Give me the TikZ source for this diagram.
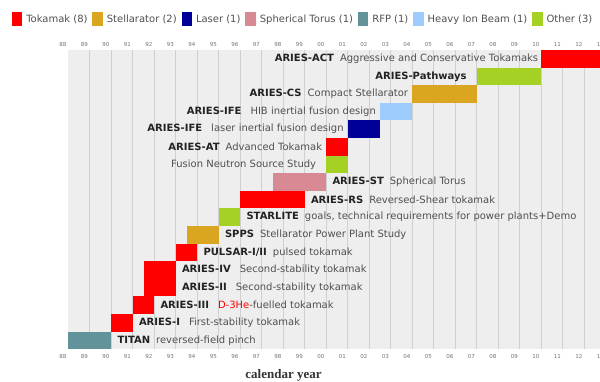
\documentclass[tikz,border=0pt]{standalone}
\usepackage{fontspec}
\setmainfont{DejaVu Sans}
\newfontfamily\serifbold{Liberation Serif}
\usetikzlibrary{positioning}

% Colores de las categorías
\definecolor{tokamak}{HTML}{FF0000}
\definecolor{stellarator}{HTML}{DAA520}
\definecolor{laser}{HTML}{000099}
\definecolor{torus}{HTML}{D78A93}
\definecolor{rfp}{HTML}{62939A}
\definecolor{hib}{HTML}{9DCBFB}
\definecolor{other}{HTML}{A5D125}
\definecolor{fondo}{HTML}{EEEEEE}
\definecolor{rejilla}{HTML}{D0D0D0}
\definecolor{desc}{HTML}{505050}
\definecolor{nombre}{HTML}{222222}

\newcommand{\proy}[1]{{\bfseries\color{nombre}#1}\hspace{6pt}}

\begin{document}
\begin{tikzpicture}[x=21.5pt, y=-17.6pt,
    leg/.style={inner sep=0, minimum width=10.5pt, minimum height=14pt, anchor=west},
    legtxt/.style={inner sep=0, text=desc, font=\fontsize{10}{12}\selectfont},
    izq/.style={anchor=east, inner sep=0, xshift=-4pt, text=desc, font=\fontsize{10}{12}\selectfont},
    der/.style={anchor=west, inner sep=0, xshift=6pt, text=desc, font=\fontsize{10}{12}\selectfont},
    anio/.style={inner sep=0, text=black!55, font=\fontsize{5.5}{6}\selectfont}]

    % Marco de la figura (600 x 381)
    \useasboundingbox (-3.1767,-2.8409) rectangle (24.730,18.807);
    \clip (-3.1767,-2.8409) rectangle (24.730,18.807);

    % Leyenda
    \node[leg, fill=tokamak] (lTok) at (-2.633,-1.733) {};
    \node[legtxt, right=3.5pt of lTok] (tTok) {Tokamak (8)};
    \node[leg, fill=stellarator, right=4.5pt of tTok] (lSte) {};
    \node[legtxt, right=3.5pt of lSte] (tSte) {Stellarator (2)};
    \node[leg, fill=laser, right=4.5pt of tSte] (lLas) {};
    \node[legtxt, right=3.5pt of lLas] (tLas) {Laser (1)};
    \node[leg, fill=torus, right=4.5pt of tLas] (lTor) {};
    \node[legtxt, right=3.5pt of lTor] (tTor) {Spherical Torus (1)};
    \node[leg, fill=rfp, right=4.5pt of tTor] (lRfp) {};
    \node[legtxt, right=3.5pt of lRfp] (tRfp) {RFP (1)};
    \node[leg, fill=hib, right=4.5pt of tRfp] (lHib) {};
    \node[legtxt, right=3.5pt of lHib] (tHib) {Heavy Ion Beam (1)};
    \node[leg, fill=other, right=4.5pt of tHib] (lOth) {};
    \node[legtxt, right=3.5pt of lOth] (tOth) {Other (3)};

    % Fondo y rejilla de años
    \fill[fondo] (0,0) rectangle (25,17);
    \foreach \k in {1,...,24}
        \draw[rejilla, line width=1pt] (\k,0) -- (\k,17);

    % Años arriba y abajo
    \foreach \k in {0,...,25} {
        \pgfmathtruncatemacro\yr{mod(88+\k,100)}
        \node[anio] (arr\k) at (\k-0.25,-0.341) {\ifnum\yr<10 0\fi\yr};
        \node[anio] (aba\k) at (\k-0.25,17.386) {\ifnum\yr<10 0\fi\yr};
    }

    % Barras de los estudios (fila 0 arriba)
    \fill[tokamak]     (22,0)   rectangle (25,1);    % ARIES-ACT
    \fill[other]       (19,1)   rectangle (22,2);    % ARIES-Pathways
    \fill[stellarator] (16,2)   rectangle (19,3);    % ARIES-CS
    \fill[hib]         (14.5,3) rectangle (16,4);    % ARIES-IFE (HIB)
    \fill[laser]       (13,4)   rectangle (14.5,5);  % ARIES-IFE (laser)
    \fill[tokamak]     (12,5)   rectangle (13,6);    % ARIES-AT
    \fill[other]       (12,6)   rectangle (13,7);    % FNSS
    \fill[torus]       (9.5,7)  rectangle (12,8);    % ARIES-ST
    \fill[tokamak]     (8,8)    rectangle (11,9);    % ARIES-RS
    \fill[other]       (7,9)    rectangle (8,10);    % STARLITE
    \fill[stellarator] (5.5,10) rectangle (7,11);    % SPPS
    \fill[tokamak]     (5,11)   rectangle (6,12);    % PULSAR
    \fill[tokamak]     (3.5,12) rectangle (5,14);    % ARIES-IV y ARIES-II
    \fill[tokamak]     (3,14)   rectangle (4,15);    % ARIES-III
    \fill[tokamak]     (2,15)   rectangle (3,16);    % ARIES-I
    \fill[rfp]         (0,16)   rectangle (2,17);    % TITAN

    % Etiquetas a la izquierda de la barra
    \node[izq, xshift=1pt] (act) at (22,0.5) {\proy{ARIES-ACT}Aggressive and Conservative Tokamaks};
    \node[izq, xshift=-6pt] (path) at (19,1.5) {\proy{ARIES-Pathways}};
    \node[izq] (cs) at (16,2.5) {\proy{ARIES-CS}Compact Stellarator};
    \node[izq] (ifeh) at (14.5,3.5) {\proy{ARIES-IFE}\hspace{3pt}HIB inertial fusion design};
    \node[izq] (ifel) at (13,4.5) {\proy{ARIES-IFE}\hspace{3pt}laser inertial fusion design};
    \node[izq] (at) at (12,5.5) {\proy{ARIES-AT}Advanced Tokamak};
    \node[izq, xshift=-6pt] (fnss) at (12,6.5) {Fusion Neutron Source Study};

    % Etiquetas a la derecha de la barra
    \node[der] (st) at (12,7.5) {\proy{ARIES-ST}Spherical Torus};
    \node[der] (rs) at (11,8.5) {\proy{ARIES-RS}Reversed-Shear tokamak};
    \node[der] (star) at (8,9.5) {\proy{STARLITE}goals, technical requirements for power plants+Demo};
    \node[der] (spps) at (7,10.5) {\proy{SPPS}Stellarator Power Plant Study};
    \node[der] (puls) at (6,11.5) {\proy{PULSAR-I/II}pulsed tokamak};
    \node[der] (iv) at (5,12.5) {\proy{ARIES-IV}\hspace{3pt}Second-stability tokamak};
    \node[der] (ii) at (5,13.5) {\proy{ARIES-II}\hspace{3pt}Second-stability tokamak};
    \node[der] (iii) at (4,14.5) {\proy{ARIES-III}\hspace{3pt}{\color{tokamak}D-3He}-fuelled tokamak};
    \node[der] (i) at (3,15.5) {\proy{ARIES-I}\hspace{3pt}First-stability tokamak};
    \node[der] (titan) at (2,16.5) {\proy{TITAN}reversed-field pinch};

    % Título del eje
    \node[text=black!80, font=\serifbold\bfseries\fontsize{13}{15}\selectfont] (eje) at (10.01,18.47) {calendar year};

\end{tikzpicture}
\end{document}
